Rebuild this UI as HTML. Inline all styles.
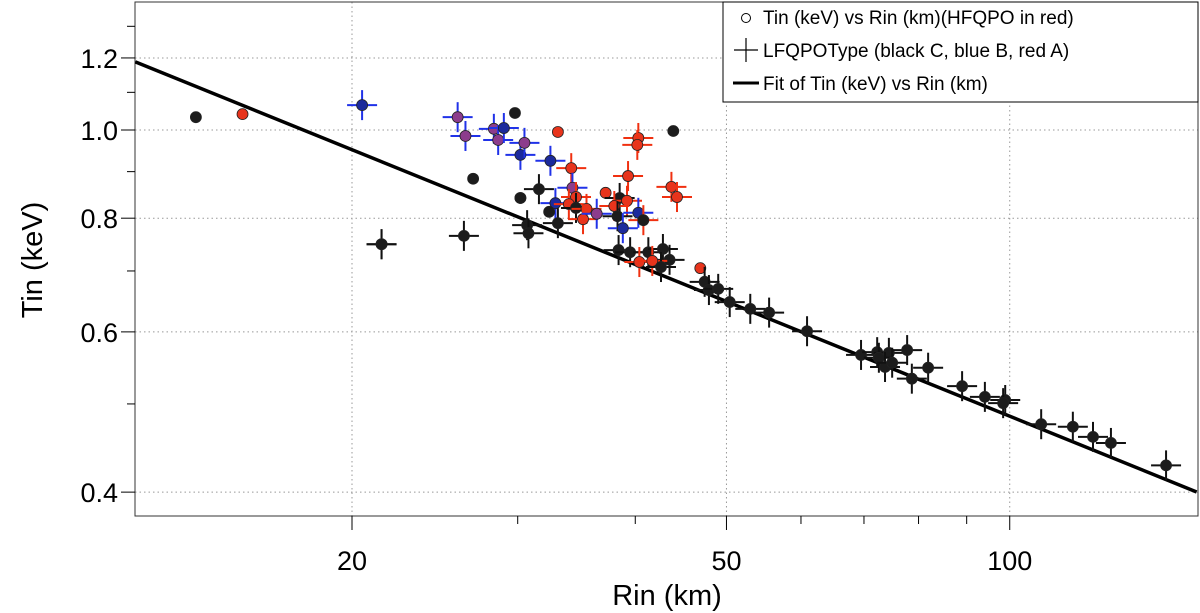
<!DOCTYPE html>
<html><head><meta charset="utf-8"><style>
body{margin:0;background:#fff;}
svg{display:block;font-family:"Liberation Sans",sans-serif;}
</style></head><body>
<svg id="chart" width="1200" height="613"></svg>
<script>
// Data arrays
const rin = [13.65,15.3,20.5,21.5,25.9,26.4,26.9,28.3,28.6,29.0,29.8,30.2,30.5,30.2,32.5,33.1,43.9,40.3,40.2,34.2,39.3,43.7,44.3,37.2,31.6,30.2,34.3,34.6,32.9,34.0,34.6,35.5,38.5,39.2,38.0,32.4,35.2,36.4,40.3,40.8,38.3,33.1,38.8,30.7,30.8,26.3,21.5,38.4,39.5,41.3,42.8,43.5,40.4,41.7,42.6,46.9,47.4,47.9,49.0,50.4,53.0,55.5,60.9,69.5,72.3,74.4,72.6,73.7,75.0,77.8,78.7,81.9,89.0,94.1,98.9,98.4,108,116.7,122.6,128.1,146.6];
const tin = [1.033,1.041,1.065,0.749,1.033,0.985,0.884,1.003,0.975,1.005,1.044,0.939,0.968,0.842,0.925,0.995,0.9975,0.980,0.963,0.908,0.890,0.866,0.844,0.853,0.861,0.842,0.864,0.844,0.831,0.829,0.821,0.819,0.842,0.836,0.825,0.813,0.798,0.809,0.811,0.796,0.804,0.790,0.780,0.786,0.770,0.765,0.749,0.738,0.734,0.734,0.740,0.720,0.716,0.718,0.707,0.705,0.681,0.667,0.669,0.647,0.636,0.630,0.601,0.566,0.570,0.569,0.562,0.549,0.555,0.573,0.533,0.548,0.523,0.509,0.505,0.501,0.475,0.472,0.460,0.453,0.428];
const fills = ["k","r","b","k","p","p","k","p","p","b","k","b","p","k","b","r","k","r","r","r","r","r","r","r","k","k","p","r","b","r","k","r","k","r","r","k","r","p","b","k","k","k","b","k","k","k","k","k","k","k","k","k","r","r","k","r","k","k","k","k","k","k","k","k","k","k","k","k","k","k","k","k","k","k","k","k","k","k","k","k","k"];
const bars  = ["n","n","b","k","b","b","n","b","b","b","n","b","b","n","b","n","n","r","r","r","r","r","r","n","k","n","b","r","b","r","k","r","k","r","r","n","r","b","b","r","k","k","b","k","k","k","k","k","k","k","k","k","r","r","k","n","k","k","k","k","k","k","k","k","k","k","k","k","k","k","k","k","k","k","k","k","k","k","k","k","k"];
const xTicksMajor = [20,50,100];
const xTicksMinor = [30,40,60,70,80,90];
const yTicksMajor = [0.4,0.6,0.8,1.0,1.2];
const yTicksMinor = [0.5,0.7,0.9,1.1,1.3];
const fitPoints = [11.77,158];
const fitA = 1.188, fitR0 = 11.77, fitSlope = -0.419;

const L=135,R=1198,T=2,B=516;
const xs = v => 352 + 941*Math.log10(v/20);
const ys = v => 130 - 910*Math.log10(v);
const NS="http://www.w3.org/2000/svg";
const svg=document.getElementById('chart');
function mk(tag,attrs,parent){const e=document.createElementNS(NS,tag);for(const k in attrs)e.setAttribute(k,attrs[k]);(parent||svg).appendChild(e);return e;}

const grid=mk('g',{});


xTicksMajor.forEach(v=>{mk('line',{x1:xs(v),x2:xs(v),y1:T,y2:B,stroke:'#999','stroke-dasharray':'1.5,3','stroke-width':1},grid);});
yTicksMajor.forEach(v=>{mk('line',{x1:L,x2:R,y1:ys(v),y2:ys(v),stroke:'#999','stroke-dasharray':'1.5,3','stroke-width':1},grid);});

const frame=mk('rect',{x:L,y:T,width:R-L,height:B-T,fill:'none',stroke:'#333','stroke-width':1});



xTicksMajor.forEach(v=>{
  mk('line',{x1:xs(v),x2:xs(v),y1:B,y2:B+14,stroke:'#000'});
  const t=mk('text',{x:xs(v),y:B+54,'text-anchor':'middle','font-size':27});
  t.textContent=v;
  
  
});
xTicksMinor.forEach(v=>mk('line',{x1:xs(v),x2:xs(v),y1:B,y2:B+8,stroke:'#000'}));
yTicksMajor.forEach(v=>{
  mk('line',{x1:L-14,x2:L,y1:ys(v),y2:ys(v),stroke:'#000'});
  const t=mk('text',{x:L-17,y:ys(v)+10,'text-anchor':'end','font-size':27});
  t.textContent=v.toFixed(1);
  
  
});
yTicksMinor.forEach(v=>mk('line',{x1:L-8,x2:L,y1:ys(v),y2:ys(v),stroke:'#000'}));

const xt=mk('text',{x:667,y:605,'text-anchor':'middle','font-size':29});
xt.textContent='Rin (km)';


const yt=mk('text',{x:0,y:0,'text-anchor':'middle','font-size':29,transform:'translate(42,260) rotate(-90)'});
yt.textContent='Tin (keV)';



const defs=mk('defs',{});
const cp=mk('clipPath',{id:'clip'},defs);
mk('rect',{x:L,y:T,width:R-L,height:B-T},cp);

const fit=mk('line',{x1:xs(fitPoints[0]),y1:ys(fitA*Math.pow(fitPoints[0]/fitR0,fitSlope)),x2:xs(fitPoints[1]),y2:ys(fitA*Math.pow(fitPoints[1]/fitR0,fitSlope)),stroke:'#000','stroke-width':3.5,'clip-path':'url(#clip)'});



const fillC={k:'#1c1c1c',r:'#e8341c',b:'#1c2a9c',p:'#8c3c8c'};
const barC={k:'#111',r:'#f03010',b:'#2032e8'};
const pts=mk('g',{'clip-path':'url(#clip)'});


rin.forEach((r,i)=>{
  const cx=xs(r),cy=ys(tin[i]);
  const g=mk('g',{},pts);
  
  
  if(bars[i]!=='n'){
    mk('line',{x1:cx-15,x2:cx+15,y1:cy,y2:cy,stroke:barC[bars[i]],'stroke-width':2},g);
    mk('line',{x1:cx,x2:cx,y1:cy-15,y2:cy+15,stroke:barC[bars[i]],'stroke-width':2},g);
  }
  mk('circle',{cx:cx,cy:cy,r:5.5,fill:fillC[fills[i]],stroke:'#222','stroke-width':0.8},g);
});

const lg=mk('g',{});


mk('rect',{x:723,y:2,width:475,height:100,fill:'#fff',stroke:'#000','stroke-width':1},lg);
const labels=['Tin (keV) vs Rin (km)(HFQPO in red)','LFQPOType (black C, blue B, red A)','Fit of Tin (keV) vs Rin (km)'];
mk('circle',{cx:746,cy:18,r:4.5,fill:'none',stroke:'#000'},lg);
mk('line',{x1:734,x2:758,y1:50,y2:50,stroke:'#000','stroke-width':1.2},lg);
mk('line',{x1:746,x2:746,y1:38,y2:62,stroke:'#000','stroke-width':1.2},lg);
mk('line',{x1:733,x2:759,y1:83,y2:83,stroke:'#000','stroke-width':3},lg);
labels.forEach((s,i)=>{
  const t=mk('text',{x:763,y:24+i*33,'font-size':19},lg);
  t.textContent=s;
  
  
});
</script>
</body></html>
